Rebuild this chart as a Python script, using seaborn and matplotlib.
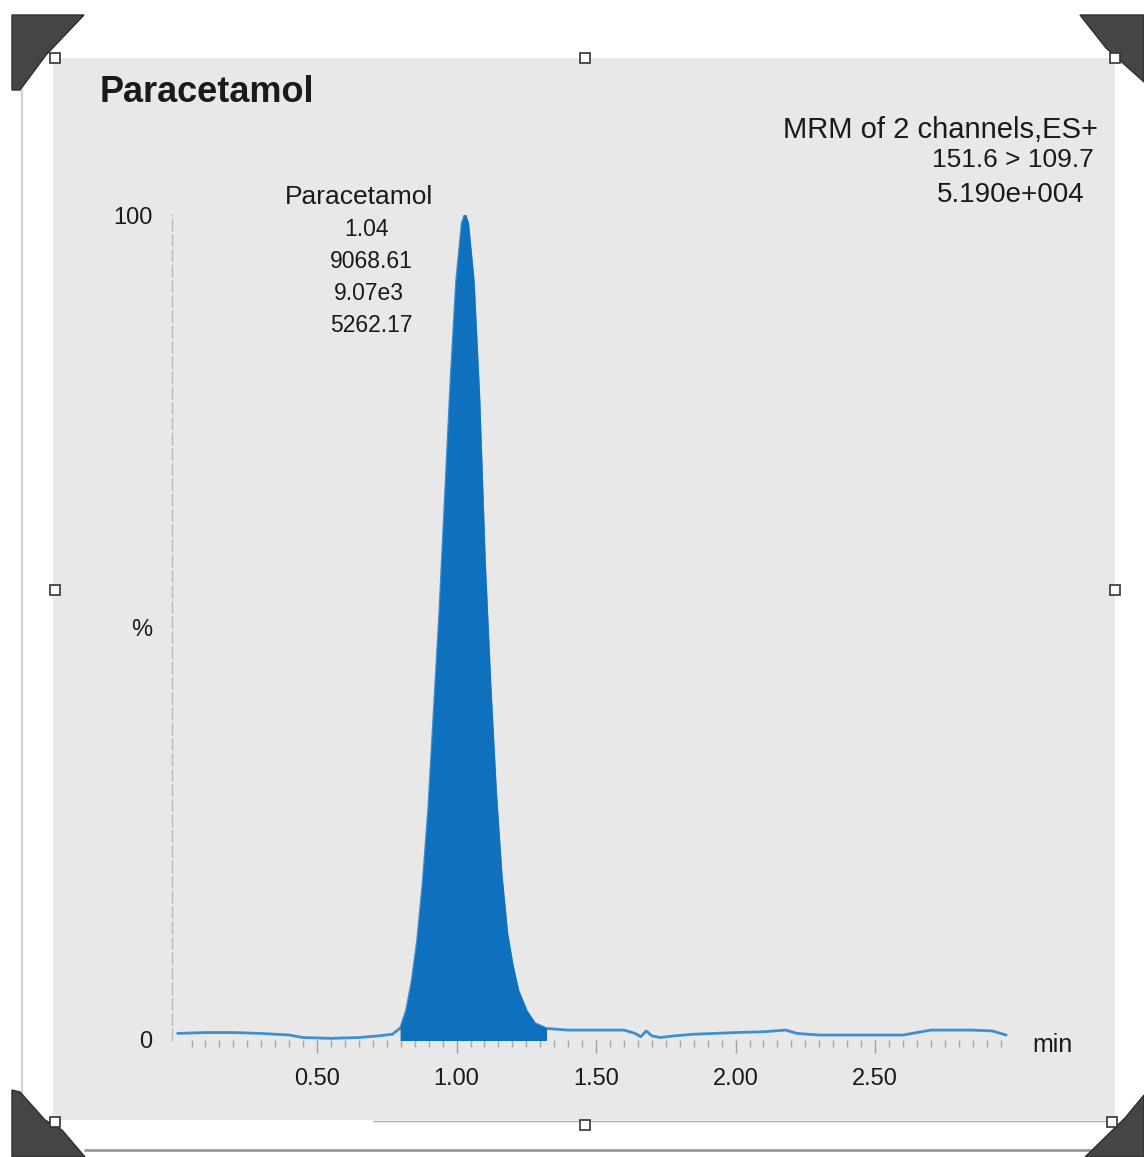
import numpy as np
import pandas as pd
import matplotlib.pyplot as plt
from matplotlib.patches import Polygon, Rectangle
import seaborn as sns

# ------------------------------------------ DATA ------------------------------------------------------------#
time_min = [0.00, 0.10, 0.20, 0.30, 0.40, 0.45, 0.55, 0.65, 0.72, 0.77,
            0.80, 0.82, 0.84, 0.86, 0.88, 0.90, 0.92, 0.94, 0.96, 0.98,
            1.00, 1.02, 1.03, 1.04, 1.06, 1.08, 1.10, 1.12, 1.14, 1.16,
            1.18, 1.20, 1.22, 1.25, 1.28, 1.32, 1.40, 1.50, 1.60, 1.64,
            1.66, 1.68, 1.70, 1.73, 1.78, 1.85, 2.00, 2.10, 2.18, 2.22,
            2.30, 2.45, 2.60, 2.65, 2.70, 2.85, 2.92, 2.97]
intensity = [0.8, 0.9, 0.9, 0.8, 0.6, 0.3, 0.2, 0.3, 0.5, 0.7,
             1.5, 3.5, 7.0, 12.0, 19.0, 28.0, 40.0, 52.0, 66.0, 80.0,
             92.0, 99.0, 100.0, 99.0, 92.0, 78.0, 58.0, 43.0, 30.0, 20.0,
             13.0, 9.0, 6.0, 3.5, 2.0, 1.4, 1.2, 1.2, 1.2, 0.8,
             0.4, 1.1, 0.5, 0.3, 0.5, 0.7, 0.9, 1.0, 1.2, 0.8,
             0.6, 0.6, 0.6, 0.9, 1.2, 1.2, 1.1, 0.6]
peak_start, peak_end = 0.80, 1.32

x_ticks = [0.5, 1.0, 1.5, 2.0, 2.5]
x_ticklabels = ['0.50', '1.00', '1.50', '2.00', '2.50']
y_ticks = [0, 50, 100]
y_ticklabels = ['0', '%', '100']

peak_label = ['Paracetamol', '1.04', '9068.61', '9.07e3', '5262.17']
header = ['MRM of 2 channels,ES+', '151.6 > 109.7', '5.190e+004']

df = pd.DataFrame({'time': time_min, 'pct': intensity})
peak = df[(df['time'] >= peak_start) & (df['time'] <= peak_end)]

# ------------------------------------------ PLOT ------------------------------------------------------------#
W, H = 1144, 1157
sns.set_style('white')
plt.rcParams['font.family'] = ['Liberation Sans', 'DejaVu Sans']

fig = plt.figure(figsize=(W / 100, H / 100), dpi=100)
fig.patch.set_facecolor('white')

def fx(px):
    return px / W

def fy(py):
    return 1 - py / H

# scanned sheet + frame
fig.patches.append(Rectangle((fx(53), fy(1120)), fx(1115) - fx(53), fy(58) - fy(1120),
                             transform=fig.transFigure, facecolor='#e8e8e8', edgecolor='none', zorder=-10))
fig.add_artist(plt.Line2D([fx(22), fx(22)], [fy(90), fy(1095)], transform=fig.transFigure,
                          color='#c8c8c8', lw=1.2, zorder=-5))
fig.add_artist(plt.Line2D([fx(85), fx(1090)], [fy(1150), fy(1150)], transform=fig.transFigure,
                          color='#9a9a9a', lw=2, zorder=-5))
fig.add_artist(plt.Line2D([fx(373), fx(1112)], [fy(1121), fy(1121)], transform=fig.transFigure,
                          color='#b0b0b0', lw=1, zorder=-5))

# photo corners
corners = [
    [(12, 15), (84, 15), (46, 55), (20, 90), (12, 90)],
    [(1080, 15), (1144, 15), (1144, 82), (1106, 48)],
    [(12, 1090), (20, 1092), (45, 1120), (62, 1130), (85, 1157), (12, 1157)],
    [(1085, 1157), (1125, 1118), (1144, 1095), (1144, 1157)],
]
for c in corners:
    fig.patches.append(Polygon([(fx(a), fy(b)) for a, b in c], closed=True, transform=fig.transFigure,
                               facecolor='#454545', edgecolor='#2e2e2e', lw=1, zorder=5))

# selection handles
for hx, hy in [(55, 58), (585, 58), (1115, 58), (55, 590), (1115, 590), (55, 1122), (585, 1125), (1112, 1122)]:
    fig.patches.append(Rectangle((fx(hx - 5), fy(hy + 5)), fx(10), 10 / H, transform=fig.transFigure,
                                 facecolor='white', edgecolor='#333333', lw=1.2, zorder=6))

ax = fig.add_axes([fx(172), fy(1040), 3.0 * 279 / W, 825 / H])
ax.set_facecolor('none')

sns.lineplot(data=df, x='time', y='pct', ax=ax, color='#3d8fd2', lw=2, zorder=2)
ax.fill_between(peak['time'], peak['pct'], 0, color='#0f70bd', lw=1, edgecolor='#0f70bd', zorder=3)

ax.set_xlim(-0.02, 2.98)
ax.set_ylim(0, 100)
ax.set_xlabel('')
ax.set_ylabel('')
for s in ['top', 'right', 'bottom']:
    ax.spines[s].set_visible(False)
ax.spines['left'].set_color('#b8b8b8')
ax.spines['left'].set_linestyle((0, (8, 3)))
ax.spines['left'].set_linewidth(1)

ax.set_xticks(x_ticks)
ax.set_xticklabels(x_ticklabels, fontsize=17, color='#1a1a1a')
ax.set_xticks(np.arange(0.05, 2.98, 0.05), minor=True)
ax.tick_params(axis='x', which='major', direction='out', length=9, width=1, color='#a0a0a0', pad=11, bottom=True)
ax.tick_params(axis='x', which='minor', direction='out', length=5, width=1, color='#a8a8a8', bottom=True)
ax.set_yticks(y_ticks)
ax.set_yticklabels(y_ticklabels, fontsize=17, color='#1a1a1a')
ax.tick_params(axis='y', length=0, pad=14, left=True)
ax.get_yticklabels()[2].set_x(0.0)

# texts
fig.text(fx(100), fy(92), 'Paracetamol', fontsize=26, fontweight='bold', ha='left', va='center', color='#1a1a1a')
for i, (t, cx) in enumerate(zip(peak_label, [359, 367, 371, 369, 371])):
    fig.text(fx(cx), fy(197 + 32 * i), t, fontsize=19 if i == 0 else 16.5, ha='center', va='center',
             color='#1a1a1a')
for t, rx, cy, fs in zip(header, [1098, 1094, 1085], [130, 160, 195], [21, 19, 20]):
    fig.text(fx(rx), fy(cy), t, fontsize=fs, ha='right', va='center', color='#1a1a1a')
fig.text(fx(1032), fy(1045), 'min', fontsize=18, ha='left', va='center', color='#1a1a1a')

plt.savefig('out.png', dpi=100)
